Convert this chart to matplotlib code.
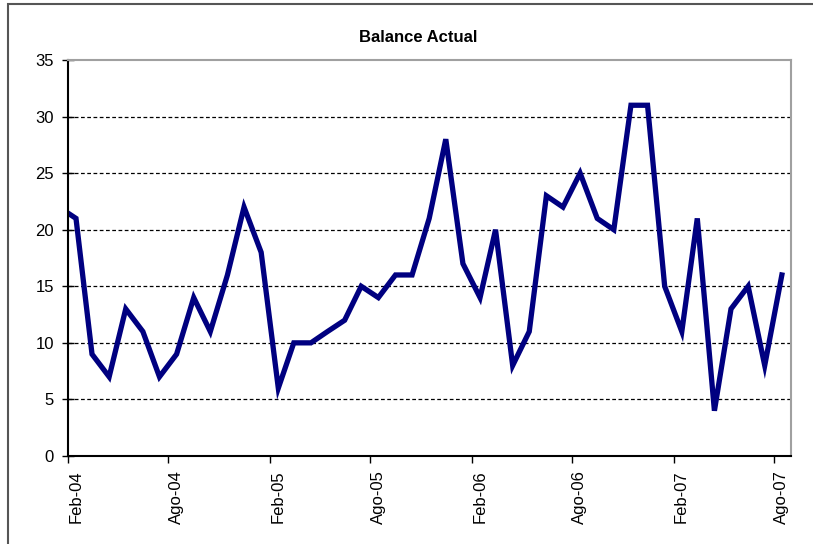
import numpy as np
import pandas as pd
import matplotlib
matplotlib.use("Agg")
from matplotlib import pyplot as plt
from matplotlib.patches import Rectangle
import matplotlib.transforms as mtransforms

plt.rcParams['font.family'] = ['Liberation Sans', 'DejaVu Sans']

# monthly balance, Jan-04 .. Aug-07 (mid-month points, axis starts Feb-04)
months = pd.date_range("2004-01-01", "2007-08-01", freq="MS") + pd.Timedelta(days=15)
balance = [22, 21, 9, 7, 13, 11, 7, 9, 14, 11, 16, 22,
           18, 6, 10, 10, 11, 12, 15, 14, 16, 16, 21, 28,
           17, 14, 20, 8, 11, 23, 22, 25, 21, 20, 31, 31,
           15, 11, 21, 4, 13, 15, 8, 16]

tick_dates = pd.to_datetime(["2004-02-01", "2004-08-01", "2005-02-01", "2005-08-01",
                             "2006-02-01", "2006-08-01", "2007-02-01", "2007-08-01"])
tick_labels = ["Feb-04", "Ago-04", "Feb-05", "Ago-05",
               "Feb-06", "Ago-06", "Feb-07", "Ago-07"]
y_ticks = [0, 5, 10, 15, 20, 25, 30, 35]

fig = plt.figure(figsize=(8.13, 5.44), dpi=100)
ax = fig.add_axes([67.7/813, 1-456/544, (790.7-67.7)/813, (456-60)/544])

# chart area frame (runs off right/bottom edge like the screenshot)
fig.patches.append(Rectangle((8/813, -0.1), 1.2, 1 - 4/544 + 0.1,
                             transform=fig.transFigure, fill=False,
                             edgecolor='#555555', lw=1.5))

ax.plot(months, balance, color='#000080', lw=3.8, solid_joinstyle='miter')

ax.set_xlim(pd.Timestamp("2004-02-01"), pd.Timestamp("2007-09-01"))
ax.set_ylim(0, 35)
ax.set_yticks(y_ticks)
ax.set_xticks(tick_dates)
ax.set_xticklabels(tick_labels, rotation=90, fontsize=12)
ax.tick_params(axis='y', labelsize=12, direction='inout', length=8, width=1, pad=6)
ax.tick_params(axis='x', direction='out', length=5, width=1, pad=5)

# excel puts the rotated labels a bit right of the tick
shift = mtransforms.ScaledTranslation(8/100, 0, fig.dpi_scale_trans)
for lbl in ax.get_xticklabels():
    lbl.set_transform(lbl.get_transform() + shift)

for v in y_ticks[1:-1]:
    ax.axhline(v, color='black', lw=0.9, ls=(0, (3, 2)), zorder=0)

ax.spines['left'].set_color('black')
ax.spines['left'].set_linewidth(1.5)
ax.spines['bottom'].set_color('black')
ax.spines['bottom'].set_linewidth(1.5)
ax.spines['top'].set_color('#a0a0a0')
ax.spines['top'].set_linewidth(1.5)
ax.spines['right'].set_color('#a0a0a0')
ax.spines['right'].set_linewidth(1.5)

fig.text(418/813, 1-37/544, "Balance Actual", ha='center', va='center',
         fontsize=12, fontweight='bold')

fig.savefig("out.png", dpi=100)
